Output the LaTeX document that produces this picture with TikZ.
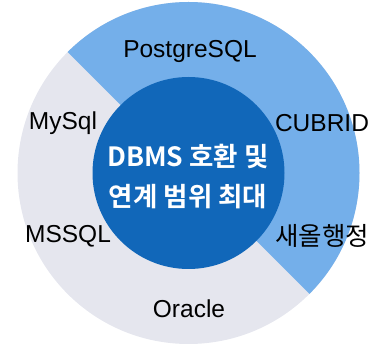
\documentclass[tikz,border=0pt]{standalone}
\usepackage{fontspec}
\setmainfont{Liberation Sans}
\newfontfamily\kr{Noto Sans CJK KR}
\newfontfamily\krb{Noto Sans CJK KR Bold}
\definecolor{ringgray}{HTML}{E5E6EE}
\definecolor{ringblue}{HTML}{74AFEA}
\definecolor{coreblue}{HTML}{1167B9}
\begin{document}
\begin{tikzpicture}[x=1pt,y=1pt,
  lbl/.style={font=\fontsize{24.5}{26}\selectfont, text=black, inner sep=0pt},
  corelbl/.style={font=\krb\fontsize{26.5}{40}\selectfont, text=white, align=center, inner sep=0pt}]
\useasboundingbox (0,0) rectangle (383,-344);
\coordinate (c) at (188.5,-173);
\fill[ringgray] (c) circle[radius=171];
\fill[ringblue] (c) -- ++(135:171) arc[start angle=135, end angle=-45, radius=171] -- cycle;
\fill[coreblue] (c) circle[radius=96];
\node[corelbl] (core) at (188,-177) {DBMS 호환 및\\연계 범위 최대};
\node[lbl] (pg) at (190,-51) {PostgreSQL};
\node[lbl] (my) at (63,-123) {MySql};
\node[lbl] (cub) at (322,-123) {CUBRID};
\node[lbl] (ms) at (68,-236) {MSSQL};
\node[lbl,font=\kr\fontsize{25.5}{26}\selectfont] (sae) at (322,-236) {새올행정};
\node[lbl] (ora) at (189,-309) {Oracle};
\end{tikzpicture}
\end{document}
